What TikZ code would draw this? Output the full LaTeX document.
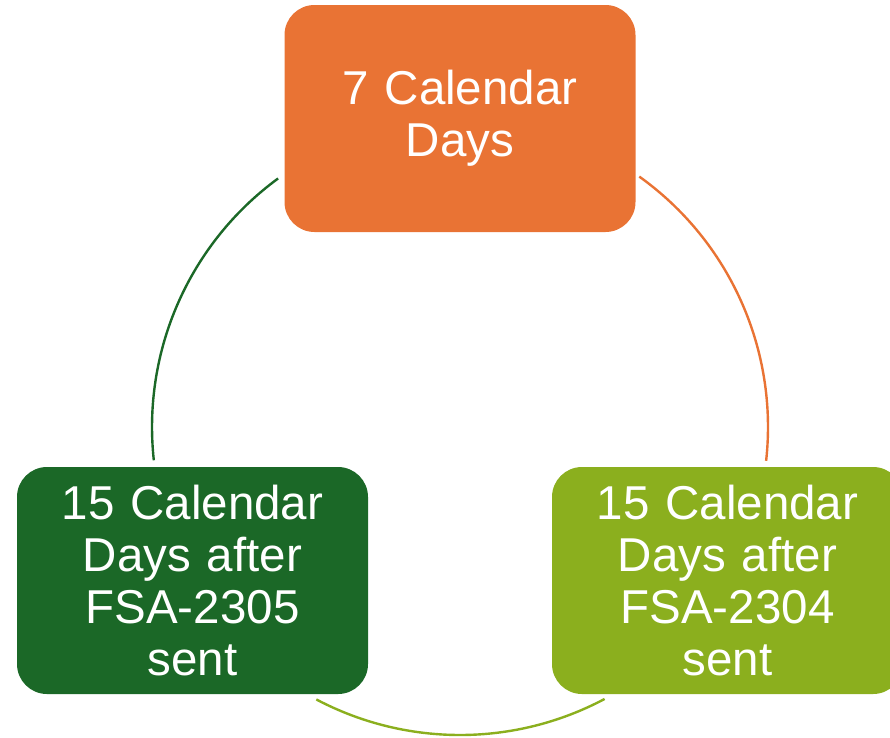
\documentclass[tikz,border=0pt]{standalone}
\usepackage{fontspec}
\setmainfont{Liberation Sans}
\definecolor{orangeA}{RGB}{233,115,52}
\definecolor{darkgreenA}{RGB}{27,104,39}
\definecolor{limeA}{RGB}{139,175,30}
\tikzset{
  cyclebox/.style={rectangle, rounded corners=30pt, minimum width=351pt, minimum height=227pt,
    text width=340pt, align=center, text=white, inner sep=0pt,
    font=\fontsize{47.5}{52}\selectfont},
  cyclearc/.style={line width=2.4pt}
}
\begin{document}
\begin{tikzpicture}[x=1pt,y=1pt]
\useasboundingbox (0,0) rectangle (890,-737);
\clip (0,0) rectangle (890,-737);
\coordinate (c) at (460,-427);
% arcs
\draw[cyclearc, darkgreenA] ([shift={(186.2:308)}]c) arc[start angle=186.2, end angle=126.2, radius=308];
\draw[cyclearc, orangeA] ([shift={(54.4:308)}]c) arc[start angle=54.4, end angle=-6.3, radius=308];
\draw[cyclearc, limeA] ([shift={(-62:308)}]c) arc[start angle=-62, end angle=-117.8, radius=308];
% boxes
\node[cyclebox, fill=orangeA] (top) at (460,-118.5) {7 Calendar\\Days};
\node[cyclebox, fill=darkgreenA] (left) at (192.5,-580.5) {15 Calendar\\Days after\\FSA-2305\\sent};
\node[cyclebox, fill=limeA] (right) at (727.5,-580.5) {15 Calendar\\Days after\\FSA-2304\\sent};
\end{tikzpicture}
\end{document}
